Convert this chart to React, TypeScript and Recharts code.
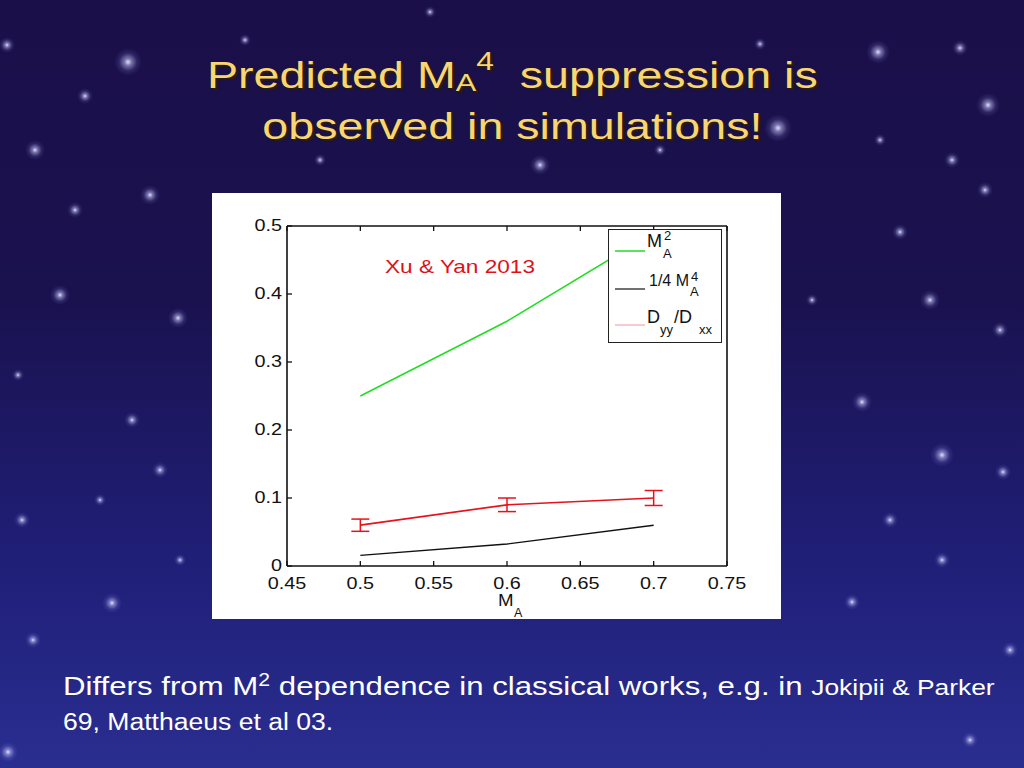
import React from 'react';
import { LineChart, Line, XAxis, YAxis, ErrorBar, Legend, Label } from 'recharts';

// ---- data ----
const maValues = [0.5, 0.6, 0.7];
const ma2Values = [0.25, 0.36, 0.49];
const quarterMa4Values = [0.0156, 0.0324, 0.06];
const dyyDxxValues = [0.06, 0.09, 0.1];
const dyyDxxErrors = [0.009, 0.01, 0.011];

const xTicks = [0.45, 0.5, 0.55, 0.6, 0.65, 0.7, 0.75];
const xTickLabels = ['0.45', '0.5', '0.55', '0.6', '0.65', '0.7', '0.75'];
const yTicks = [0, 0.1, 0.2, 0.3, 0.4, 0.5];
const yTickLabels = ['0', '0.1', '0.2', '0.3', '0.4', '0.5'];

const chartData = maValues.map((x, i) => ({
  x,
  ma2: ma2Values[i],
  quarterMa4: quarterMa4Values[i],
  dyyDxx: dyyDxxValues[i],
  err: dyyDxxErrors[i],
}));

// decorative star field of the slide background (not data)
const starField: [number, number, number][] = [
  [128, 62, 7], [7, 45, 4], [85, 96, 4], [35, 150, 5], [60, 295, 5], [178, 318, 5],
  [132, 420, 4], [75, 210, 4], [150, 195, 5], [22, 520, 4], [160, 470, 4], [112, 603, 5],
  [8, 752, 5], [245, 40, 3], [540, 165, 5], [778, 128, 7], [878, 52, 6], [960, 48, 4],
  [988, 105, 6], [952, 160, 4], [985, 190, 4], [900, 232, 4], [930, 300, 5], [1000, 330, 4],
  [862, 402, 5], [942, 455, 6], [1003, 472, 4], [852, 602, 4], [942, 560, 4], [890, 520, 4],
  [812, 300, 3], [33, 640, 4], [180, 560, 3], [1010, 650, 4], [760, 44, 3], [430, 12, 3],
  [320, 160, 3], [660, 150, 3], [880, 140, 3], [970, 740, 4], [18, 375, 3], [100, 500, 3],
];

const FONT = 'Arial, "Liberation Sans", Helvetica, sans-serif';
const TICK_LEN = 5;

// bottom axis: label below, tick mark pointing up into the plot
const XTick = (props: any) => {
  const { x, y, payload } = props;
  const label = xTickLabels[xTicks.indexOf(payload.value)] ?? String(payload.value);
  const axisY = y - 5;
  return (
    <g>
      <line x1={x} x2={x} y1={axisY} y2={axisY - TICK_LEN} stroke="#111" strokeWidth={1.3} />
      <g transform={`translate(${x},${axisY})`}>
        <text transform="scale(1.2,1)" x={0} y={23} textAnchor="middle" fontSize={16.5} fill="#111" fontFamily={FONT}>
          {label}
        </text>
      </g>
    </g>
  );
};

// left axis: label to the left, tick mark pointing right into the plot
const YTick = (props: any) => {
  const { x, y, payload } = props;
  const label = yTickLabels[yTicks.indexOf(payload.value)] ?? String(payload.value);
  const axisX = x + 5;
  return (
    <g>
      <line x1={axisX} x2={axisX + TICK_LEN} y1={y} y2={y} stroke="#111" strokeWidth={1.3} />
      <g transform={`translate(${axisX - 5},${y})`}>
        <text transform="scale(1.2,1)" x={0} y={5} textAnchor="end" fontSize={16.5} fill="#111" fontFamily={FONT}>
          {label}
        </text>
      </g>
    </g>
  );
};

const TopTick = (props: any) => {
  const { x, y } = props;
  return <line x1={x} x2={x} y1={y} y2={y + TICK_LEN} stroke="#111" strokeWidth={1.3} />;
};

const RightTick = (props: any) => {
  const { x, y } = props;
  return <line x1={x} x2={x - TICK_LEN} y1={y} y2={y} stroke="#111" strokeWidth={1.3} />;
};

const XAxisTitle = (props: any) => {
  const vb = props.viewBox || { x: 0, y: 0, width: 0 };
  const cx = vb.x + vb.width / 2;
  return (
    <g fontFamily={FONT} fill="#111">
      <text
        x={cx - 1}
        y={vb.y + 40}
        textAnchor="middle"
        fontSize={17}
        transform={`translate(${cx},0) scale(1.1,1) translate(${-cx},0)`}
      >
        M
      </text>
      <text x={cx + 7} y={vb.y + 50.5} fontSize={12.5}>A</text>
    </g>
  );
};

const legendColors = ['#22dd22', '#111111', '#f4a6b0'];

const LegendBox = () => (
  <div style={{ width: 114, height: 114, boxSizing: 'border-box', border: '1.5px solid #222', background: '#fff' }}>
    <svg width={111} height={111} style={{ display: 'block', overflow: 'visible' }} fontFamily={FONT} fill="#111">
      <line x1={6} x2={36} y1={21} y2={21} stroke={legendColors[0]} strokeWidth={1.5} />
      <text x={38} y={17} fontSize={18}>M</text>
      <text x={54} y={28} fontSize={13}>A</text>
      <text x={55} y={10} fontSize={13}>2</text>

      <line x1={6} x2={36} y1={59} y2={59} stroke={legendColors[1]} strokeWidth={1.2} />
      <text x={40} y={56} fontSize={16}>1/4 M</text>
      <text x={81} y={66} fontSize={13}>A</text>
      <text x={82} y={51} fontSize={13}>4</text>

      <line x1={6} x2={36} y1={95} y2={95} stroke={legendColors[2]} strokeWidth={1.2} />
      <text x={38} y={93} fontSize={18}>D</text>
      <text x={51} y={104} fontSize={13}>yy</text>
      <text x={65} y={93} fontSize={18}>/D</text>
      <text x={90} y={104} fontSize={13}>xx</text>
    </svg>
  </div>
);

const Star = ({ x, y, s }: { x: number; y: number; s: number }) => (
  <div
    style={{
      position: 'absolute',
      left: x - s * 2,
      top: y - s * 2,
      width: s * 4,
      height: s * 4,
      borderRadius: '50%',
      background:
        'radial-gradient(circle, rgba(235,235,255,0.95) 0%, rgba(200,200,255,0.55) 18%, rgba(160,160,240,0.15) 45%, rgba(0,0,0,0) 70%)',
    }}
  />
);

export default function App() {
  return (
    <div
      style={{
        position: 'fixed',
        left: 0,
        top: 0,
        width: 1024,
        height: 768,
        overflow: 'hidden',
        background: 'linear-gradient(180deg, #1a0f48 0%, #1a1250 40%, #20207a 75%, #2a2e90 100%)',
        fontFamily: FONT,
      }}
    >
      {starField.map(([x, y, s], i) => (
        <Star key={i} x={x} y={y} s={s} />
      ))}

      {/* Title */}
      <div
        style={{
          position: 'absolute',
          left: 0,
          top: 52,
          width: 1024,
          textAlign: 'center',
          color: '#f7d673',
          fontSize: 37,
          lineHeight: '47px',
          textShadow: '1px 1px 0 #2b1e08, 2px 2px 1px #2b1e08',
        }}
      >
        <div style={{ display: 'inline-block', transform: 'scaleX(1.26)', transformOrigin: '50% 50%', whiteSpace: 'pre' }}>
          <div>
            Predicted M
            <span style={{ fontSize: '0.66em', position: 'relative', top: '0.12em' }}>A</span>
            <span style={{ fontSize: '0.68em', position: 'relative', top: '-0.72em' }}>4</span>
            {'  suppression is'}
          </div>
          <div>observed in simulations!</div>
        </div>
      </div>

      {/* Chart panel */}
      <div style={{ position: 'absolute', left: 212, top: 193, width: 569, height: 426, background: '#ffffff' }}>
        <LineChart width={569} height={426} data={chartData} margin={{ top: 32, right: 53, bottom: 52, left: 74 }}>
          <XAxis
            dataKey="x"
            type="number"
            domain={[0.45, 0.75]}
            ticks={xTicks}
            height={1}
            tickSize={0}
            tickMargin={5}
            tick={<XTick />}
            tickLine={false}
            axisLine={{ stroke: '#111', strokeWidth: 1.6 }}
            allowDataOverflow
          >
            <Label content={<XAxisTitle />} />
          </XAxis>
          <XAxis
            xAxisId="top"
            orientation="top"
            dataKey="x"
            type="number"
            domain={[0.45, 0.75]}
            ticks={xTicks}
            height={1}
            tickSize={0}
            tickMargin={0}
            tick={<TopTick />}
            tickLine={false}
            axisLine={{ stroke: '#111', strokeWidth: 1.6 }}
          />
          <YAxis
            type="number"
            domain={[0, 0.5]}
            ticks={yTicks}
            width={1}
            tickSize={0}
            tickMargin={5}
            tick={<YTick />}
            tickLine={false}
            axisLine={{ stroke: '#111', strokeWidth: 1.6 }}
          />
          <YAxis
            yAxisId="right"
            orientation="right"
            type="number"
            domain={[0, 0.5]}
            ticks={yTicks}
            width={1}
            tickSize={0}
            tickMargin={0}
            tick={<RightTick />}
            tickLine={false}
            axisLine={{ stroke: '#111', strokeWidth: 1.6 }}
          />
          <Line dataKey="ma2" stroke="#22dd22" strokeWidth={1.6} dot={false} type="linear" isAnimationActive={false} />
          <Line dataKey="quarterMa4" stroke="#111111" strokeWidth={1.4} dot={false} type="linear" isAnimationActive={false} />
          <Line dataKey="dyyDxx" stroke="#e8121c" strokeWidth={1.7} dot={false} type="linear" isAnimationActive={false}>
            <ErrorBar dataKey="err" direction="y" width={9} stroke="#e8121c" strokeWidth={1.5} isAnimationActive={false} />
          </Line>
          <Legend
            layout="vertical"
            align="center"
            verticalAlign="middle"
            content={<LegendBox />}
            wrapperStyle={{ left: 396, top: 36, width: 114, height: 114 }}
          />
        </LineChart>
        <div
          style={{
            position: 'absolute',
            left: 173,
            top: 63,
            color: '#e01018',
            fontSize: 19,
            whiteSpace: 'pre',
            transform: 'scaleX(1.19)',
            transformOrigin: '0 0',
          }}
        >
          Xu &amp; Yan 2013
        </div>
      </div>

      {/* Bottom text */}
      <div
        style={{
          position: 'absolute',
          left: 63,
          top: 671,
          color: '#ffffff',
          fontSize: 26,
          lineHeight: '30px',
          whiteSpace: 'pre',
          transform: 'scaleX(1.2)',
          transformOrigin: '0 0',
        }}
      >
        Differs from M
        <span style={{ fontSize: '0.68em', position: 'relative', top: '-0.5em' }}>2</span>
        {' dependence in classical works, e.g. in '}
        <span style={{ fontSize: 22 }}>Jokipii &amp; Parker</span>
      </div>
      <div
        style={{
          position: 'absolute',
          left: 63,
          top: 708,
          color: '#ffffff',
          fontSize: 23,
          lineHeight: '28px',
          whiteSpace: 'pre',
          transform: 'scaleX(1.155)',
          transformOrigin: '0 0',
        }}
      >
        69, Matthaeus et al 03.
      </div>
    </div>
  );
}
